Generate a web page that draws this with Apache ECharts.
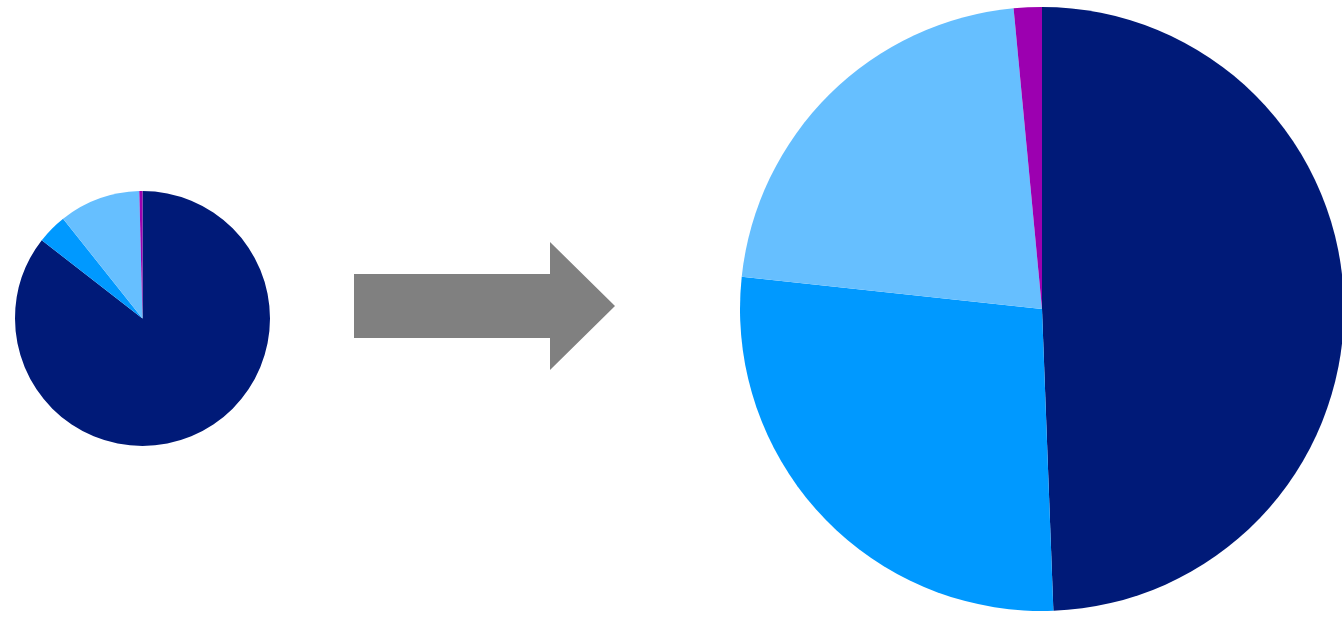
<!DOCTYPE html>
<html>
<head>
<meta charset="utf-8">
<title>pie compare</title>
<script src="https://cdn.jsdelivr.net/npm/echarts@6/dist/echarts.min.js"></script>
<style>
    html, body{
        margin: 0;
        padding: 0;
        background-color: #fff;
    }
    #chart{
        width: 1342px;
        height: 622px;
    }
</style>
</head>
<body>
<div id="chart"></div>
<script>
    // 数据
    var categories = ['A', 'B', 'C', 'D'];
    var beforeValues = [85.5, 3.8, 10.3, 0.4];
    var afterValues = [49.4, 27.3, 21.8, 1.5];
    var colors = ['#001a78', '#0099ff', '#66bfff', '#9c00b0'];

    function toData(values){
        return categories.map(function (name, i) {
            return {name: name, value: values[i]};
        });
    }

    var myChart = echarts.init(document.getElementById('chart'));
    var option = {
        animation: false,
        color: colors,
        series: [{
            type: 'pie',
            center: [142.5, 318.5],
            radius: 127.5,
            startAngle: 90,
            clockwise: true,
            label: {show: false},
            labelLine: {show: false},
            itemStyle: {borderWidth: 0},
            emphasis: {disabled: true},
            data: toData(beforeValues)
        }, {
            type: 'pie',
            center: [1042, 309],
            radius: 302,
            startAngle: 90,
            clockwise: true,
            label: {show: false},
            labelLine: {show: false},
            itemStyle: {borderWidth: 0},
            emphasis: {disabled: true},
            data: toData(afterValues)
        }],
        // 中间箭头
        graphic: [{
            type: 'polygon',
            shape: {
                points: [[354, 274], [550, 274], [550, 242], [615, 306], [550, 370], [550, 338], [354, 338]]
            },
            style: {fill: '#808080'}
        }]
    };
    myChart.setOption(option);
</script>
</body>
</html>
